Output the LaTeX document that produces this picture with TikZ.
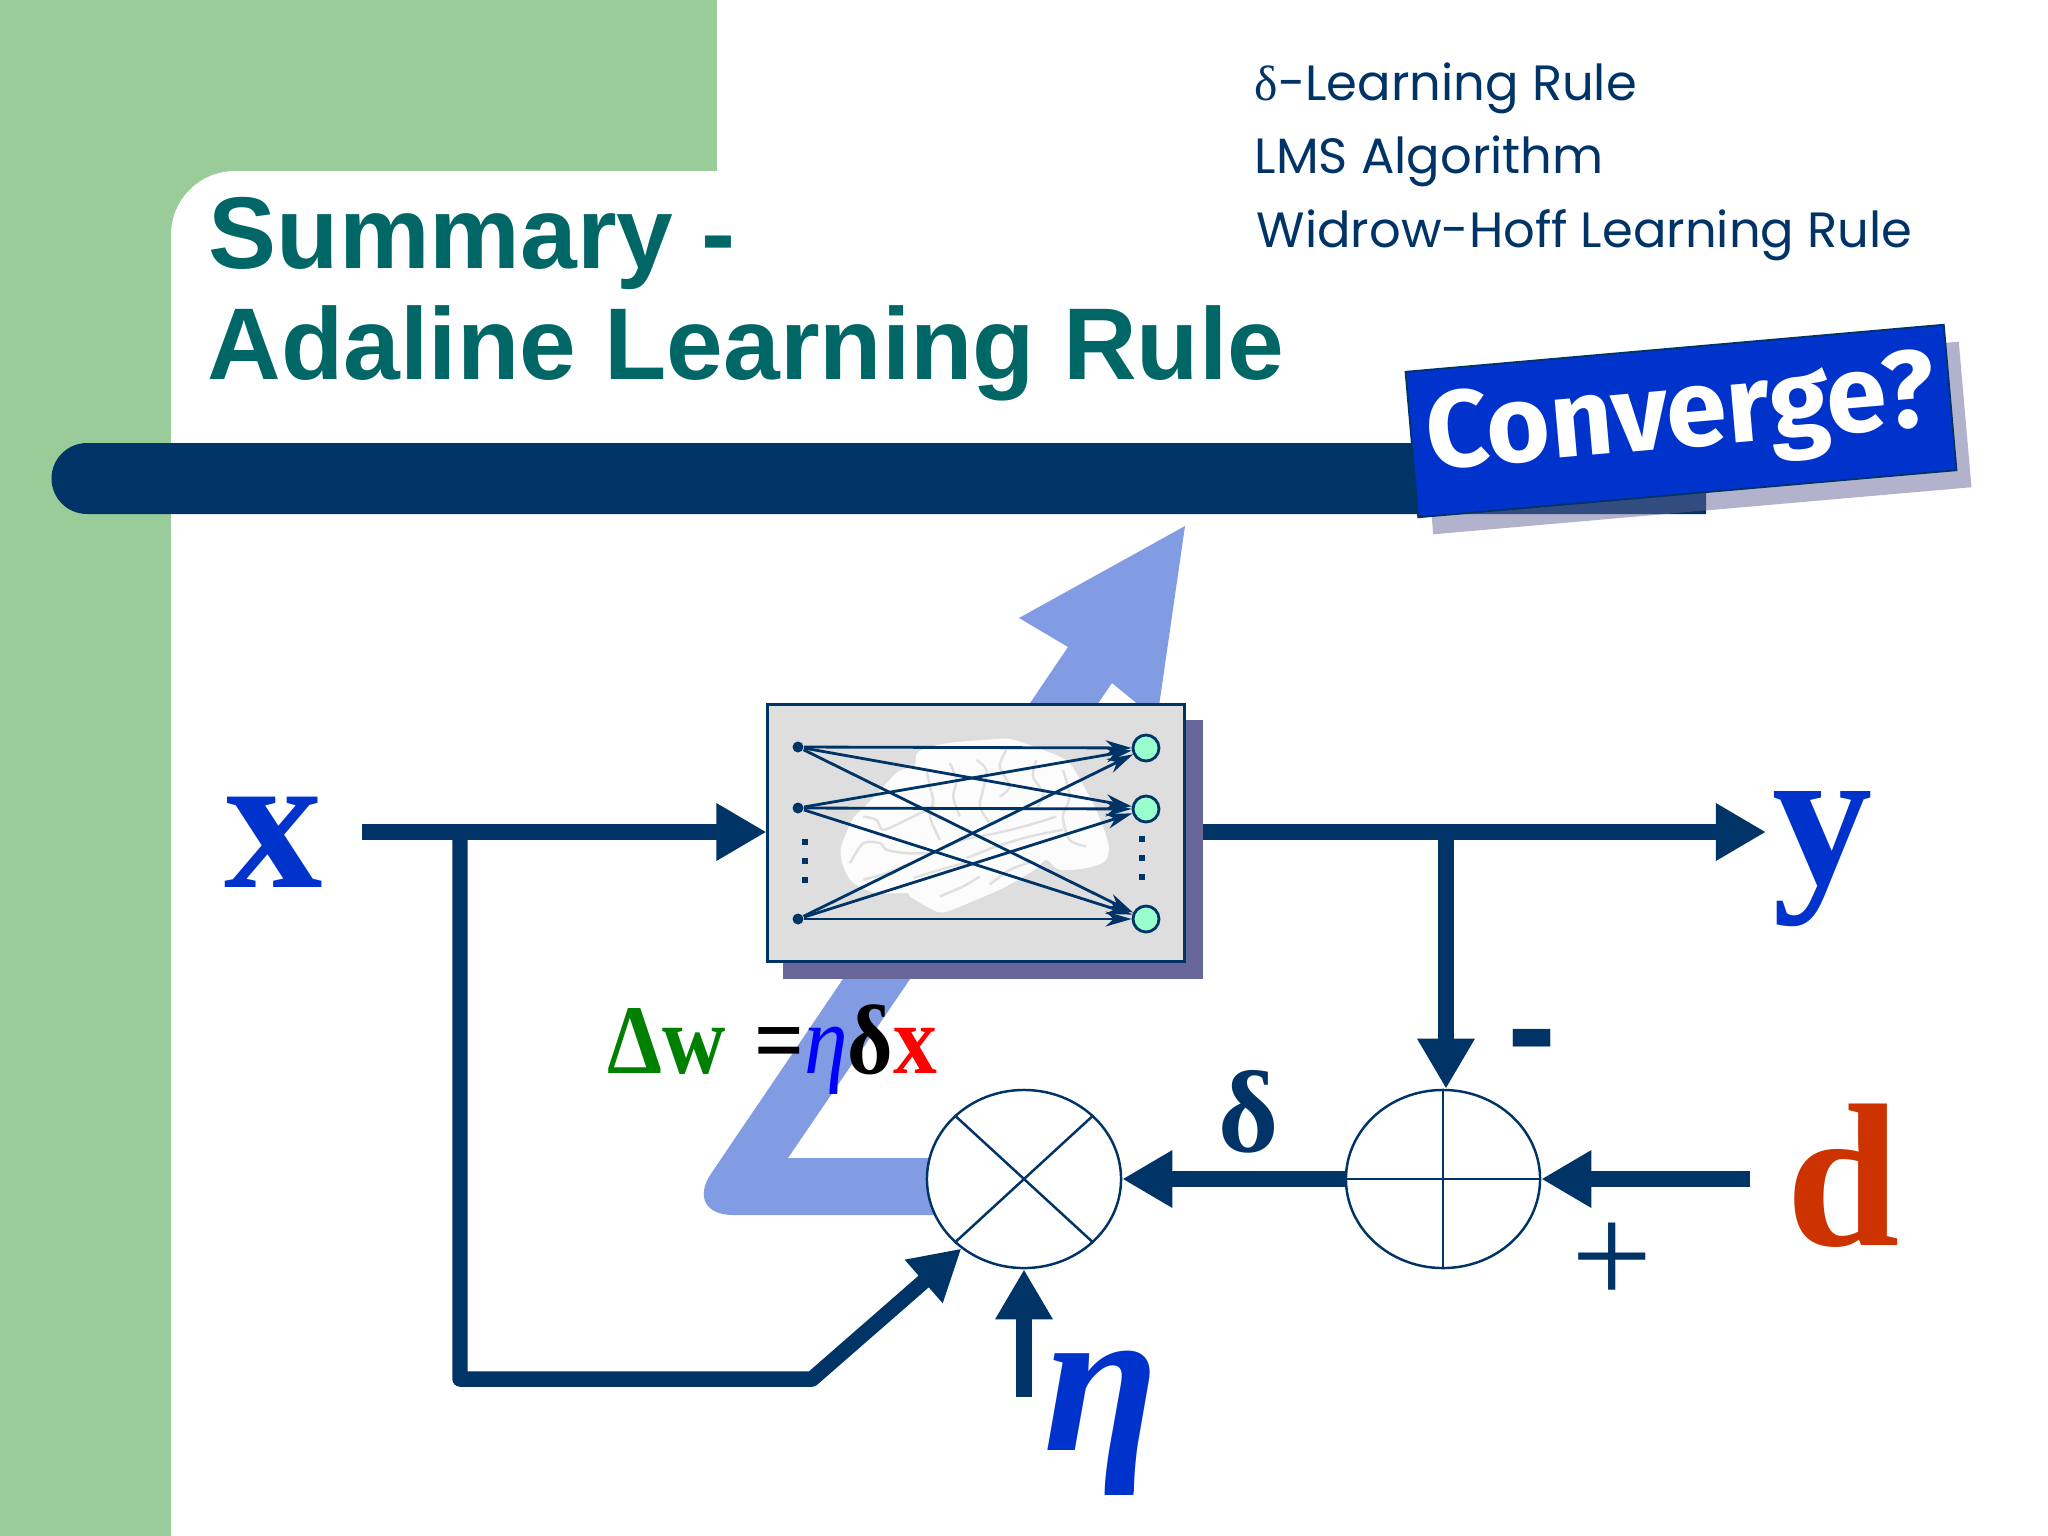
\documentclass[tikz,border=0pt]{standalone}
\usepackage{xcolor}
\usepackage{fontspec}
\usepackage{tikz}
\usetikzlibrary{arrows.meta,shapes.geometric}
\setmainfont{Liberation Serif}
\newfontfamily\titlefont{Liberation Sans}
\newfontfamily\handfont{Poppins}
\newfontfamily\cartelfont{Fira Sans}
\definecolor{verdeb}{HTML}{99CC99}
\definecolor{marino}{HTML}{003366}
\definecolor{azul}{HTML}{0033CC}
\definecolor{flecha}{HTML}{829CE3}
\definecolor{sombra}{HTML}{666699}
\definecolor{titulo}{HTML}{006666}
\definecolor{rojod}{HTML}{CC3300}
\definecolor{menta}{HTML}{99FFCC}
\tikzset{
  linea/.style = {draw=marino, line width=4.4pt, line join=round},
  punta/.style = {linea, -{Triangle[length=5mm,width=5.4mm]}},
  sinapsis/.style = {draw=marino, line width=0.8pt, -{Stealth[length=2.6mm,width=1.5mm,inset=0.8mm]}},
  circulo/.style = {ellipse, draw=marino, line width=0.7pt, fill=white, minimum width=1.94cm, minimum height=1.78cm, inner sep=0pt},
  entrada/.style = {circle, fill=marino, minimum size=1.1mm, inner sep=0pt},
  salida/.style = {circle, draw=marino, line width=0.8pt, fill=menta, minimum size=2.6mm, inner sep=0pt},
  puntito/.style = {fill=marino, minimum size=0.55mm, inner sep=0pt},
  texto/.style = {anchor=base west, inner sep=0pt},
  letra/.style = {inner sep=0pt},
  surco/.style = {draw=black!12, line width=0.7pt}
}
\begin{document}
\begin{tikzpicture}[x=0.01cm, y=-0.01cm]
  \useasboundingbox (0,0) rectangle (2048,1536);
  % Fondo verde
  \fill[verdeb] (0,0) rectangle (717,171);
  \fill[verdeb] (0,171) rectangle (171,1536);
  \fill[verdeb] (171,171) rectangle (235,235);
  \fill[white] (171,235) arc[start angle=180, end angle=270, radius=64] -- (235,235) -- cycle;
  % Titulo
  \node[texto, text=titulo] (sumario) at (208,268) {\titlefont\bfseries\fontsize{29}{34}\selectfont Summary -};
  \node[texto, text=titulo] (regla) at (207,379) {\titlefont\bfseries\fontsize{29}{34}\selectfont Adaline Learning Rule};
  \node[texto, text=marino] (nombreA) at (1254,100) {\handfont\fontsize{14.1}{16}\selectfont{\fontspec{Liberation Serif}δ}-Learning Rule};
  \node[texto, text=marino] (nombreB) at (1254,173) {\handfont\fontsize{14.1}{16}\selectfont LMS Algorithm};
  \node[texto, text=marino] (nombreC) at (1256,247) {\handfont\fontsize{14.1}{16}\selectfont Widrow-Hoff Learning Rule};
  % Barra
  \fill[marino] (87,514) arc[start angle=90, end angle=270, radius=35.5] -- (1706,443) -- (1706,514) -- cycle;
  % Cartel
  \node[rotate=5, fill=sombra, fill opacity=0.5, inner sep=0pt, minimum width=5.4cm, minimum height=1.46cm] (sombracartel) at (1696,438) {};
  \node[rotate=5, fill=azul, draw=marino, line width=0.5pt, inner sep=0pt, minimum width=5.4cm, minimum height=1.46cm, text=white] (cartel) at (1681,421) {\cartelfont\bfseries\fontsize{31}{34}\selectfont Converge?};
  % Flecha grande
  \fill[flecha] (960,1215) [rounded corners=0.5cm] -- (683,1215) [sharp corners] -- (1068,647) -- (1019,618) -- (1185,526) -- (1157,720) -- (1112,683) -- (788,1158) -- (960,1158) -- cycle;
  % Red
  \fill[sombra] (783,720) rectangle (1203,979);
  \node[draw=marino, line width=0.8pt, fill=black!13, minimum width=4.16cm, minimum height=2.57cm, inner sep=0pt] (red) at (976,833) {};
  % Cerebro
  \begin{scope}[shift={(830,730)}, x=0.00333cm, y=-0.00333cm]
    \fill[white, opacity=0.92] plot[smooth cycle, tension=0.5] coordinates {(32,360) (45,320) (70,265) (110,225) (165,165) (205,125) (255,105) (265,65) (350,40) (490,28) (545,28) (640,60) (715,95) (760,165) (790,220) (820,290) (838,355) (825,395) (770,415) (690,420) (650,390) (615,420) (530,470) (440,510) (340,548) (290,530) (240,500) (230,490) (140,490) (70,460) (40,410)};
    \draw[surco] plot[smooth] coordinates {(310,370) (400,330) (500,310) (600,285) (680,260)};
    \draw[surco] plot[smooth] coordinates {(410,385) (500,350) (600,320) (700,300)};
    \draw[surco] plot[smooth] coordinates {(250,445) (330,420) (420,395)};
    \draw[surco] plot[smooth] coordinates {(480,465) (540,420) (610,395)};
    \draw[surco] plot[smooth] coordinates {(60,400) (100,340) (150,340) (170,360) (230,370) (300,370)};
    \draw[surco] plot[smooth] coordinates {(100,260) (140,270) (160,300) (230,270) (290,240)};
    \draw[surco] plot[smooth] coordinates {(290,120) (300,170) (310,215) (300,260) (330,330)};
    \draw[surco] plot[smooth] coordinates {(360,100) (380,150) (370,200) (390,260)};
    \draw[surco] plot[smooth] coordinates {(440,90) (470,120) (460,180) (450,230) (480,280)};
    \draw[surco] plot[smooth] coordinates {(530,60) (510,110) (540,170) (510,200)};
    \draw[surco] plot[smooth] coordinates {(620,90) (610,140) (640,190) (620,240)};
    \draw[surco] plot[smooth] coordinates {(700,120) (720,200) (700,260) (720,330) (770,350)};
    \draw[surco] plot[smooth] coordinates {(100,450) (170,430) (240,400)};
    \draw[surco] plot[smooth] coordinates {(330,500) (400,470) (450,440)};
  \end{scope}
  % Neuronas
  \node[entrada] (eA) at (798,747) {};
  \node[entrada] (eB) at (798,808) {};
  \node[entrada] (eC) at (798,919) {};
  \node[salida] (sA) at (1146,748) {};
  \node[salida] (sB) at (1146,809) {};
  \node[salida] (sC) at (1146,919) {};
  \node[puntito] (pA) at (805,842) {};
  \node[puntito] (pB) at (805,861) {};
  \node[puntito] (pC) at (805,880) {};
  \node[puntito] (qA) at (1142,839) {};
  \node[puntito] (qB) at (1142,858) {};
  \node[puntito] (qC) at (1142,877) {};
  \draw[sinapsis] (eA) -- (sA);
  \draw[sinapsis] (eA) -- (sB);
  \draw[sinapsis] (eA) -- (sC);
  \draw[sinapsis] (eB) -- (sA);
  \draw[sinapsis] (eB) -- (sB);
  \draw[sinapsis] (eB) -- (sC);
  \draw[sinapsis] (eC) -- (sA);
  \draw[sinapsis] (eC) -- (sB);
  \draw[sinapsis] (eC) -- (sC);
  % Bloques
  \node[circulo] (mult) at (1024,1179) {};
  \node[circulo] (suma) at (1443,1179) {};
  \draw[marino, line width=0.7pt] (mult.north west) -- (mult.south east);
  \draw[marino, line width=0.7pt] (mult.north east) -- (mult.south west);
  \draw[marino, line width=0.7pt] (suma.north) -- (suma.south);
  \draw[marino, line width=0.7pt] (suma.west) -- (suma.east);
  % Conexiones
  \coordinate (xini) at (362,832);
  \coordinate (xjunta) at (460,832);
  \coordinate (bajo) at (460,1379);
  \coordinate (codo) at (812,1379);
  \coordinate (ysal) at (1766,832);
  \coordinate (yini) at (1203,832);
  \coordinate (yjunta) at (1446,832);
  \coordinate (dini) at (1750,1179);
  \coordinate (etaini) at (1024,1397);
  \draw[punta] (xini) -- (red.west |- xini);
  \draw[punta] (xjunta) -- (bajo) -- (codo) -- (mult.228);
  \draw[punta] (yini) -- (ysal);
  \draw[punta] (yjunta) -- (yjunta |- suma.north);
  \draw[punta] (dini) -- (suma.east);
  \draw[punta] (suma.west) -- (mult.east);
  \draw[punta] (etaini) -- (mult.south);
  % Letras
  \node[letra, text=azul] (letrax) at (274,842) {\bfseries\fontsize{56}{60}\selectfont x};
  \node[letra, text=azul] (letray) at (1823,859) {\bfseries\fontsize{57}{60}\selectfont y};
  \node[letra, text=rojod] (letrad) at (1843,1176) {\bfseries\fontsize{58}{62}\selectfont d};
  \node[letra, text=azul] (letraeta) at (1101,1423) {\bfseries\itshape\fontsize{60}{64}\selectfont η};
  \node[letra, text=marino] (letradelta) at (1249,1112) {\bfseries\fontsize{33}{36}\selectfont δ};
  \node[letra, text=marino] (menos) at (1532,1053) {\titlefont\bfseries\fontsize{42}{44}\selectfont -};
  \node[letra, text=marino] (mas) at (1612,1264) {\fontsize{41}{44}\selectfont +};
  \node[texto] (formula) at (607,1073) {\scalebox{0.89}[1]{\bfseries\fontsize{28}{32}\selectfont \textcolor{green!50!black}{Δw}\hspace{3.2mm}=\textcolor{blue}{\itshape\mdseries η}δ\textcolor{red}{x}}};
\end{tikzpicture}
\end{document}
